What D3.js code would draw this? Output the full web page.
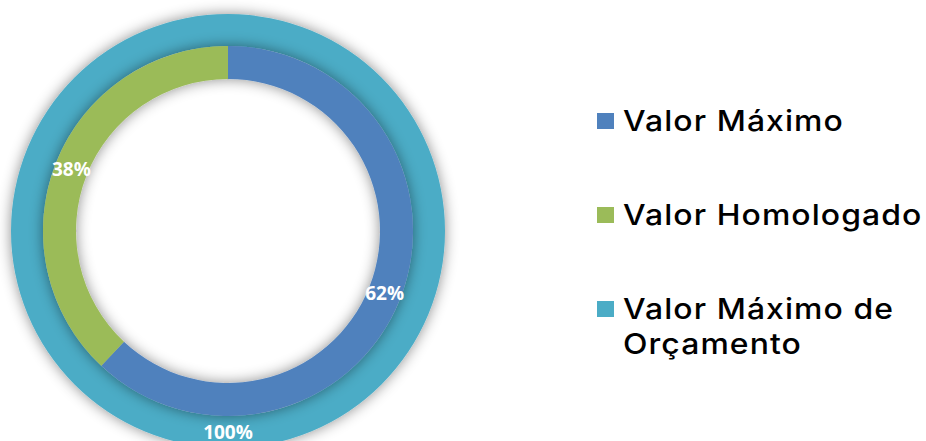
<!DOCTYPE html>
<html>
<head>
<meta charset="utf-8">
<script src="https://cdn.jsdelivr.net/npm/d3@7"></script>
<style>
  html, body { margin: 0; padding: 0; background: #ffffff; }
  svg { display: block; }
</style>
</head>
<body>
<svg id="chart"></svg>
<script>
var legendNames = ["Valor Máximo", "Valor Homologado", "Valor Máximo de Orçamento"];
var legendColors = ["#4f81bd", "#9bbb59", "#4bacc6"];

// inner ring: Valor Máximo / Valor Homologado
var innerNames = ["Valor Máximo", "Valor Homologado"];
var innerValues = [62, 38];

// outer ring: Valor Máximo de Orçamento
var outerNames = ["Valor Máximo de Orçamento"];
var outerValues = [100];

var width = 926,
    height = 441;

var cx = 228, cy = 231;
var rings = [
    {names: outerNames, values: outerValues, r0: 185, r1: 217},
    {names: innerNames, values: innerValues, r0: 152, r1: 185}
];

var svg = d3.select('#chart')
    .attr('width', width)
    .attr('height', height);

var defs = svg.append('defs');
var filter = defs.append('filter')
    .attr('id', 'glow')
    .attr('x', '-20%').attr('y', '-20%')
    .attr('width', '140%').attr('height', '140%');
filter.append('feDropShadow')
    .attr('dx', 0).attr('dy', 0)
    .attr('stdDeviation', 7)
    .attr('flood-color', '#000')
    .attr('flood-opacity', 0.45);

var color = d3.scaleOrdinal().domain(legendNames).range(legendColors);

var pie = d3.pie()
    .sort(null)
    .value(function (d) { return d; });

var fmt = function (v) { return v + '%'; };

var main = svg.append('g')
    .attr('transform', 'translate(' + cx + ',' + cy + ')');

rings.forEach(function (ring) {
    var arc = d3.arc().innerRadius(ring.r0).outerRadius(ring.r1);
    var g = main.append('g').attr('filter', 'url(#glow)');
    g.selectAll('path')
        .data(pie(ring.values))
        .enter().append('path')
        .attr('d', arc)
        .attr('fill', function (d, i) { return color(ring.names[i]); });
    ring.arc = arc;
});

rings.forEach(function (ring) {
    main.append('g').selectAll('text')
        .data(pie(ring.values))
        .enter().append('text')
        .attr('transform', function (d) {
            return 'translate(' + ring.arc.centroid(d) + ')';
        })
        .attr('text-anchor', 'middle')
        .attr('dy', '0.36em')
        .style('font-family', '"Open Sans", sans-serif')
        .style('font-weight', 700)
        .style('font-size', '19px')
        .style('fill', '#ffffff')
        .text(function (d) { return fmt(d.value); });
});

// legend
var legendY = d3.scalePoint()
    .domain(legendNames)
    .range([131, 319]);

var legend = svg.append('g').attr('class', 'legend');

var items = legend.selectAll('g')
    .data(legendNames)
    .enter().append('g')
    .attr('transform', function (d) { return 'translate(597,' + legendY(d) + ')'; });

items.append('rect')
    .attr('x', 0)
    .attr('y', -18)
    .attr('width', 17)
    .attr('height', 16)
    .attr('fill', function (d) { return color(d); });

// wide geometric look: stretch the text a little
items.append('text')
    .attr('transform', 'translate(26,0) scale(1.1,1)')
    .style('font-family', 'Inter, sans-serif')
    .style('font-size', '29px')
    .style('font-weight', 500)
    .style('letter-spacing', '1px')
    .style('fill', '#000')
    .each(function (d) {
        var t = d3.select(this);
        var lines = d === "Valor Máximo de Orçamento" ? ["Valor Máximo de", "Orçamento"] : [d];
        lines.forEach(function (line, i) {
            t.append('tspan')
                .attr('x', 0)
                .attr('dy', i === 0 ? 0 : 35)
                .text(line);
        });
    });
</script>
</body>
</html>
